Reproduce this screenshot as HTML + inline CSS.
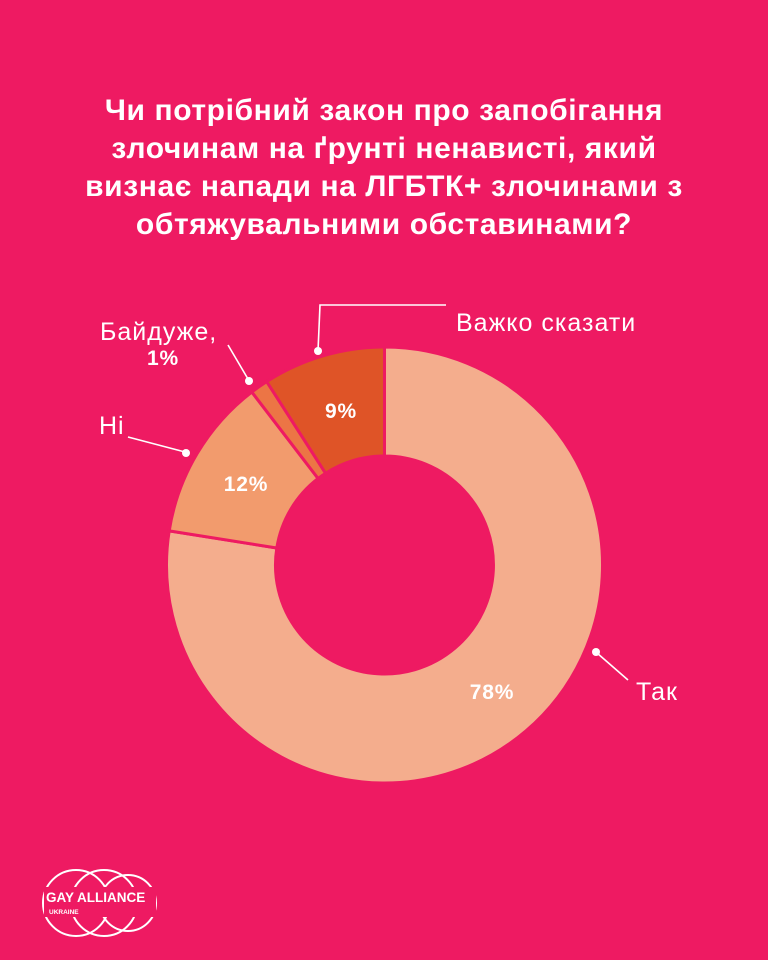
<!DOCTYPE html>
<html><head><meta charset="utf-8"><style>
html,body{margin:0;padding:0}
body{width:768px;height:960px;background:#EE1A62;overflow:hidden;position:relative;font-family:"Liberation Sans","DejaVu Sans",sans-serif}
.t{position:absolute;left:0;width:768px;top:92px;text-align:center;color:#fff;font-weight:bold;font-size:30px;letter-spacing:0.6px;line-height:38px}
</style></head><body>
<div class="t">Чи потрібний закон про запобігання<br>злочинам на ґрунті ненависті, який<br>визнає напади на ЛГБТК+ злочинами з<br>обтяжувальними обставинами?</div>
<svg width="768" height="960" style="position:absolute;left:0;top:0" font-family="Liberation Sans, DejaVu Sans, sans-serif">
<g stroke="#EE1A62" stroke-width="3">
<path d="M384.5,347 A218,218 0 1 1 169.2,530.9 L276.8,548 A109,109 0 1 0 384.5,456 Z" fill="#F4AD8D"/>
<path d="M169.2,530.9 A218,218 0 0 1 251.8,392 L318.1,478.5 A109,109 0 0 0 276.8,548 Z" fill="#F29B6D"/>
<path d="M251.8,392 A218,218 0 0 1 266.7,381.6 L325.6,473.3 A109,109 0 0 0 318.1,478.5 Z" fill="#EC7545"/>
<path d="M266.7,381.6 A218,218 0 0 1 384.5,347 L384.5,456 A109,109 0 0 0 325.6,473.3 Z" fill="#DF5427"/>
</g>
<g fill="#fff" font-weight="bold" font-size="21" letter-spacing="0.8" text-anchor="middle">
<text x="341" y="418">9%</text>
<text x="246" y="491">12%</text>
<text x="492" y="699">78%</text>
</g>
<g stroke="#fff" stroke-width="1.6" fill="none">
<polyline points="318,351 320,305 446,305"/>
<line x1="228" y1="345" x2="248" y2="379"/>
<line x1="128" y1="437" x2="185" y2="452"/>
<line x1="597" y1="653" x2="628" y2="680"/>
</g>
<g fill="#fff">
<circle cx="318" cy="351" r="4"/><circle cx="249" cy="381" r="4"/>
<circle cx="186" cy="453" r="4"/><circle cx="596" cy="652" r="4"/>
</g>
<g fill="#fff" font-size="25" letter-spacing="1">
<text x="456" y="331">Важко сказати</text>
<text x="100" y="340">Байдуже,</text>
<text x="147" y="365" font-weight="bold" font-size="21" letter-spacing="0.8">1%</text>
<text x="99" y="434">Ні</text>
<text x="636" y="700">Так</text>
</g>
<g stroke="#fff" stroke-width="2" fill="none">
<circle cx="76" cy="903" r="33"/><circle cx="104" cy="903" r="33"/><circle cx="128" cy="903" r="28"/>
</g>
<rect x="44" y="887" width="112" height="30" fill="#EE1A62"/>
<text x="46" y="902" fill="#fff" font-weight="bold" font-size="13.5">GAY ALLIANCE</text>
<text x="49" y="914" fill="#fff" font-weight="bold" font-size="6.5">UKRAINE</text>
</svg>
</body></html>
